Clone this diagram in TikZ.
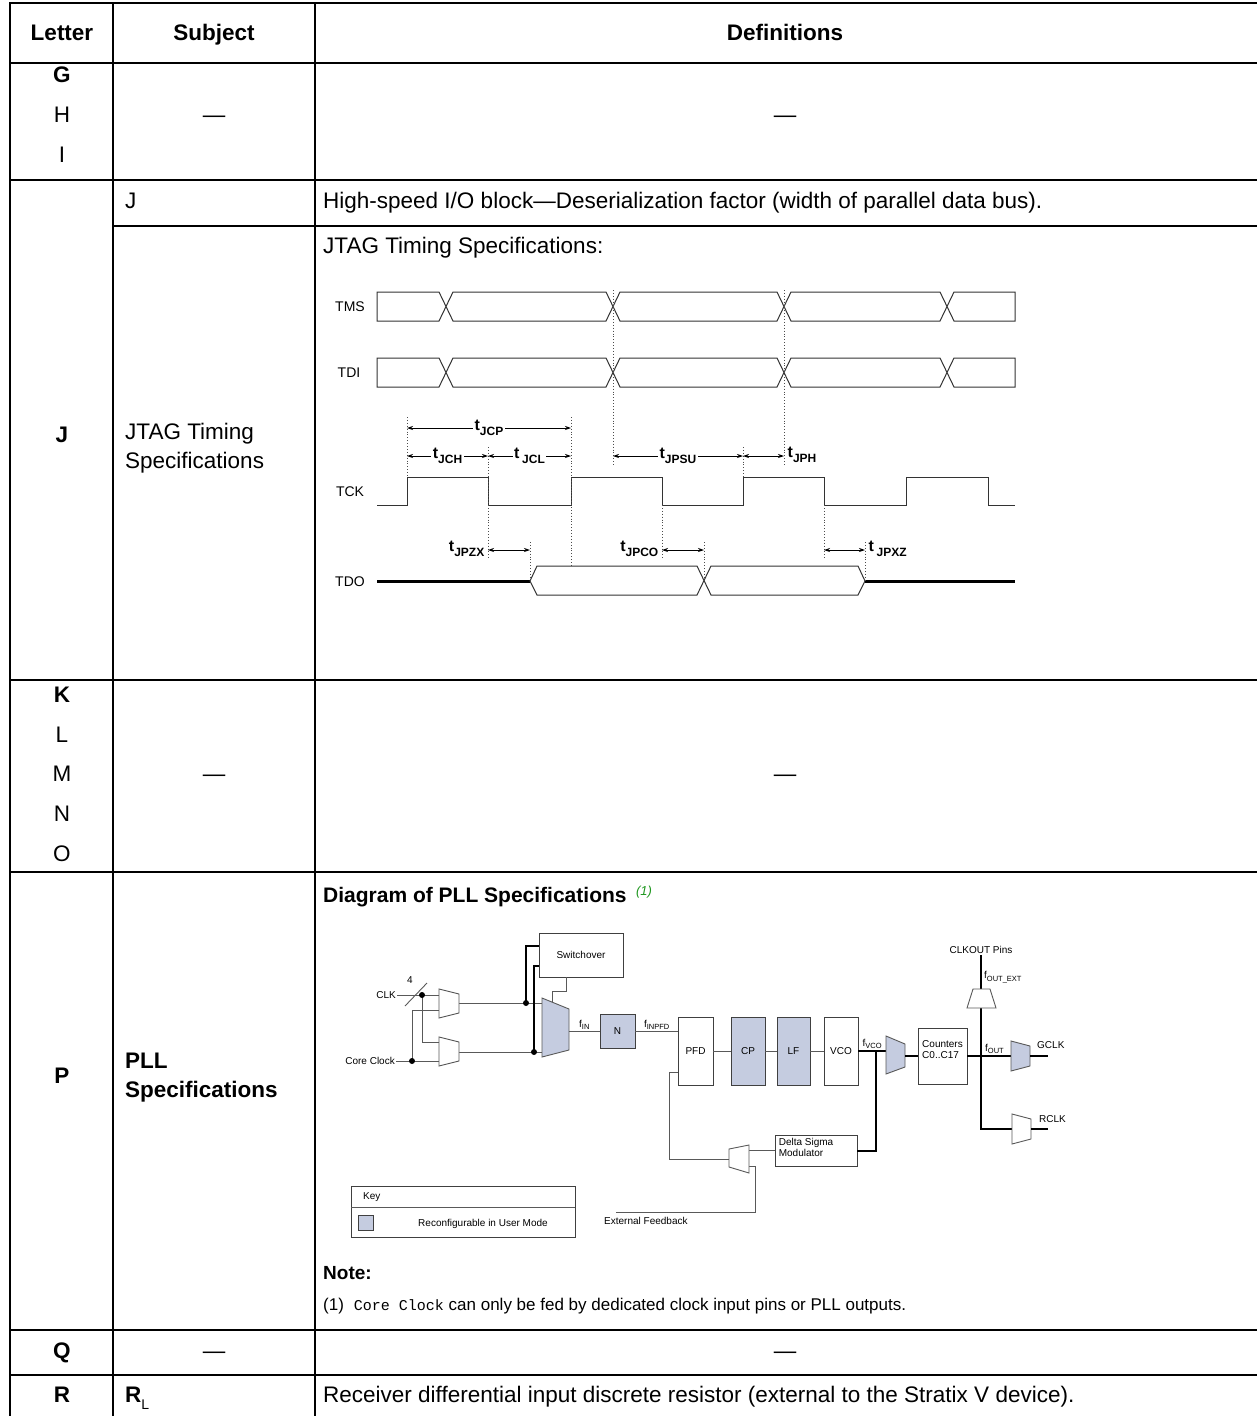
\documentclass[tikz,border=0pt]{standalone}
\usepackage{fontspec}
\setmainfont{Liberation Sans}
\setmonofont{Liberation Mono}
\newfontfamily\dgfont{Liberation Sans}
\usetikzlibrary{arrows.meta}

\definecolor{cfgblue}{RGB}{197,204,224}
\definecolor{notegreen}{RGB}{30,150,30}

\newcommand{\tsb}[1]{\raisebox{-0.3em}{\fontsize{12}{12}\selectfont #1}}
\newcommand{\tj}[1]{t\tsb{#1}}
\newcommand{\fs}[1]{f\raisebox{-0.25em}{\fontsize{7.5}{8}\selectfont #1}}

\tikzset{
  rowline/.style={line width=2.4pt},
  colline/.style={line width=1.6pt},
  cell/.style={inner sep=0pt, text height=16pt, text depth=4.5pt, font=\fontsize{22.5}{28}\selectfont},
  head/.style={cell, font=\fontsize{22.5}{28}\selectfont\bfseries},
  multi/.style={inner sep=0pt, align=left, font=\fontsize{22.5}{29}\selectfont},
  wave/.style={draw=black!80, line width=1pt},
  guide/.style={dotted, line width=0.9pt, black!70},
  dim/.style={<->, >={Stealth[length=6pt,width=4pt]}, line width=0.8pt},
  sig/.style={inner sep=0pt, font=\dgfont\fontsize{14}{16}\selectfont},
  tlab/.style={inner sep=1.5pt, font=\dgfont\bfseries\fontsize{16}{18}\selectfont},
  blk/.style={draw=black!75, line width=0.8pt, fill=white, inner sep=0pt, font=\dgfont\fontsize{10}{11}\selectfont},
  cfg/.style={blk, fill=cfgblue},
  wire/.style={draw=black!65, line width=0.9pt},
  bus/.style={draw=black, line width=2pt},
  plab/.style={inner sep=1pt, font=\dgfont\fontsize{10}{11}\selectfont},
}

\begin{document}
\begin{tikzpicture}[x=1pt,y=-1pt]
\useasboundingbox (0,0) rectangle (1256,1416);

% table rules
\draw[rowline] (10,3)--(1260,3);
\draw[rowline] (10,63)--(1260,63);
\draw[rowline] (10,180)--(1260,180);
\draw[rowline] (113,226)--(1260,226);
\draw[rowline] (10,680)--(1260,680);
\draw[rowline] (10,872)--(1260,872);
\draw[rowline] (10,1330)--(1260,1330);
\draw[rowline] (10,1375)--(1260,1375);
\draw[colline] (10,2)--(10,1420);
\draw[colline] (113,2)--(113,1420);
\draw[colline] (315,2)--(315,1420);

% header
\node[head] (hletter) at (62,35) {Letter};
\node[head] (hsubject) at (214,35) {Subject};
\node[head] (hdef) at (785,35) {Definitions};

% G H I
\node[head] (lg) at (62,77) {G};
\node[cell] (lh) at (62,117) {H};
\node[cell] (li) at (62,157) {I};
\node[cell] (sghi) at (214,117) {---};
\node[cell] (dghi) at (785,117) {---};

% J
\node[head] (lj) at (62,437) {J};
\node[cell, anchor=west] (sj) at (125,203) {J};
\node[cell, anchor=west] (dj) at (323,203) {High-speed I/O block---Deserialization factor (width of parallel data bus).};
\node[multi, anchor=west] (sjtag) at (125,448) {JTAG Timing\\Specifications};
\node[cell, anchor=west] (djtag) at (323,248) {JTAG Timing Specifications:};

% JTAG waveforms
\node[sig] (tms) at (350,307) {TMS};
\node[sig] (tdi) at (349,373) {TDI};
\node[sig] (tck) at (350,492) {TCK};
\node[sig] (tdo) at (350,582) {TDO};

\foreach \yt/\yb in {292/321,358/387}{
  \draw[wave] (377,\yt)--(439,\yt)--(453,\yb)--(606,\yb)--(620,\yt)--(777,\yt)--(791,\yb)--(940,\yb)--(954,\yt)--(1015,\yt)
    --(1015,\yb)--(954,\yb)--(940,\yt)--(791,\yt)--(777,\yb)--(620,\yb)--(606,\yt)--(453,\yt)--(439,\yb)--(377,\yb)--cycle;
}
\draw[wave] (377,505)--(407,505)--(407,477)--(488,477)--(488,505)--(571,505)--(571,477)--(662,477)--(662,505)
  --(743,505)--(743,477)--(824,477)--(824,505)--(906,505)--(906,477)--(988,477)--(988,505)--(1015,505);

\draw[line width=3pt] (377,581)--(530,581);
\draw[wave] (530,581)--(537,566)--(697,566)--(711,595)--(858,595)--(865,581)--(858,566)--(711,566)--(697,595)--(537,595)--cycle;
\draw[line width=3pt] (865,581)--(1015,581);

% guides
\draw[guide] (407,417)--(407,477);
\draw[guide] (488,447)--(488,559);
\draw[guide] (571,417)--(571,566);
\draw[guide] (613,290)--(613,465);
\draw[guide] (743,447)--(743,477);
\draw[guide] (784,290)--(784,465);
\draw[guide] (662,505)--(662,560);
\draw[guide] (824,505)--(824,560);
\draw[guide] (530,542)--(530,581);
\draw[guide] (704,542)--(704,581);
\draw[guide] (865,542)--(865,581);

% timing dimensions
\draw[dim] (407,428)--node[tlab, fill=white]{\tj{JCP}}(571,428);
\draw[dim] (407,456)--node[tlab, fill=white]{\tj{JCH}}(488,456);
\draw[dim] (488,456)--node[tlab, fill=white]{t\,\tsb{JCL}}(571,456);
\draw[dim] (613,456)--node[tlab, fill=white]{\tj{JPSU}}(743,456);
\draw[dim] (743,456)--(784,456);
\node[tlab, anchor=west] (tjph) at (786,455) {\tj{JPH}};
\draw[dim] (488,550)--(530,550);
\node[tlab, anchor=east] (tjpzx) at (486,549) {\tj{JPZX}};
\draw[dim] (662,550)--(704,550);
\node[tlab, anchor=east] (tjpco) at (660,549) {\tj{JPCO}};
\draw[dim] (824,550)--(865,550);
\node[tlab, anchor=west] (tjpxz) at (867,549) {t\,\tsb{JPXZ}};

% K L M N O
\node[head] (lk) at (62,697) {K};
\node[cell] (ll) at (62,737) {L};
\node[cell] (lm) at (62,776) {M};
\node[cell] (ln) at (62,816) {N};
\node[cell] (lo) at (62,856) {O};
\node[cell] (sko) at (214,776) {---};
\node[cell] (dko) at (785,776) {---};

% P
\node[head] (lp) at (62,1078) {P};
\node[multi, anchor=west, font=\fontsize{22.5}{29}\selectfont\bfseries] (spll) at (125,1078) {PLL\\Specifications};
\node[anchor=west, inner sep=0pt, font=\bfseries\fontsize{21}{24}\selectfont] (plltitle) at (323,897) {Diagram of PLL Specifications};
\node[anchor=west, inner sep=0pt, text=notegreen, font=\itshape\fontsize{13}{15}\selectfont] (pllnote) at ([xshift=9pt,yshift=5pt]plltitle.east) {(1)};

% PLL blocks
\node[blk, minimum width=84pt, minimum height=44pt] (swo) at (581,955) {Switchover};
\node[cfg, minimum width=35pt, minimum height=34pt] (ndiv) at (617.5,1031) {N};
\node[blk, minimum width=35pt, minimum height=68pt] (pfd) at (695.5,1051) {PFD};
\node[cfg, minimum width=34pt, minimum height=68pt] (cp) at (748,1051) {CP};
\node[cfg, minimum width=33pt, minimum height=68pt] (lf) at (793.5,1051) {LF};
\node[blk, minimum width=34pt, minimum height=68pt] (vco) at (841,1051) {VCO};
\node[blk, minimum width=49pt, minimum height=56pt] (cnt) at (942.5,1056) {};
\node[plab, align=left] (cnttxt) at ([yshift=6pt]cnt.center) {Counters\\C0..C17};
\node[blk, minimum width=82pt, minimum height=31pt] (dsm) at (816,1150.5) {};
\node[plab, align=left, anchor=north west] (dsmtxt) at ([xshift=3pt,yshift=-2pt]dsm.north west) {Delta Sigma\\Modulator};

% mux ports
\coordinate (muxA-i1) at (439,995);
\coordinate (muxA-i2) at (439,1010);
\coordinate (muxA-o) at (459,1003);
\coordinate (muxB-i1) at (439,1042);
\coordinate (muxB-i2) at (439,1061);
\coordinate (muxB-o) at (459,1052);
\coordinate (muxM-i1) at (542,1003);
\coordinate (muxM-i2) at (542,1052);
\coordinate (muxM-s) at (552,1002);
\coordinate (muxM-o) at (569,1031);
\coordinate (muxV-i) at (886,1051);
\coordinate (muxV-o) at (905,1056);
\coordinate (muxG-i) at (1011,1056);
\coordinate (muxG-o) at (1030,1056);
\coordinate (muxR-i) at (1012,1129);
\coordinate (muxR-o) at (1031,1129);
\coordinate (muxF-o) at (729,1159);
\coordinate (muxF-i1) at (749,1150.5);
\coordinate (muxF-i2) at (749,1166);
\coordinate (dotK) at (422,995);
\coordinate (dotC) at (412,1061);
\coordinate (dotA) at (526,1003);
\coordinate (dotB) at (534,1052);
\coordinate (swo-i1) at (539,946);
\coordinate (swo-i2) at (539,966);
\coordinate (swo-s) at (566,977);
\coordinate (pfd-i) at (678,1031);
\coordinate (pfd-f) at (678,1072);
\coordinate (jv) at (876,1051);
\coordinate (jr) at (981,1129);
\coordinate (gclk-e) at (1048,1056);
\coordinate (rclk-e) at (1048,1129);
\coordinate (fb0) at (616,1212);

% inputs
\node[plab, anchor=east] (clk) at (397,995) {CLK};
\node[plab, anchor=east] (cclk) at (396,1061) {Core Clock};
\draw[wire] (clk.east)--(muxA-i1);
\draw[wire] (cclk.east)--(muxB-i2);
\draw[wire] (405,1006)--(427,983);
\node[plab] (bw) at (410,980) {4};
\draw[wire] (dotC)|-(muxA-i2);
\draw[wire] (dotK)|-(muxB-i1);
\draw[wire] (muxA-o)--(muxM-i1);
\draw[wire] (muxB-o)--(muxM-i2);
\draw[bus] (dotA)|-(swo-i1);
\draw[bus] (dotB)|-(swo-i2);
\draw[wire] (swo-s)--(566,991)-|(muxM-s);
\foreach \d in {dotK,dotC,dotA,dotB} \fill (\d) circle (3pt);

% muxes
\draw[wire, fill=white] (439,989)--(459,994)--(459,1013)--(439,1018)--cycle;
\draw[wire, fill=white] (439,1037)--(459,1042)--(459,1061)--(439,1066)--cycle;
\draw[wire, fill=cfgblue] (542,998)--(569,1009)--(569,1050)--(542,1057)--cycle;

% main chain
\draw[wire] (muxM-o)--node[plab, above]{\fs{IN}}(ndiv.west);
\draw[wire] (ndiv.east)--node[plab, above]{\fs{INPFD}}(pfd-i);
\draw[wire] (pfd)--(cp);
\draw[wire] (cp)--(lf);
\draw[wire] (lf)--(vco);
\draw[bus] (vco.east)--node[plab, above]{\fs{VCO}}(muxV-i);
\draw[bus] (jv)|-(dsm.east);
\draw[wire, fill=cfgblue] (886,1036)--(905,1044)--(905,1067)--(886,1074)--cycle;
\draw[bus] (muxV-o)--(cnt);

% outputs
\node[plab, anchor=south] (pins) at (981,955) {CLKOUT Pins};
\draw[bus] (pins.south)--(jr)--(muxR-i);
\draw[bus] (cnt)--node[plab, above, pos=0.62]{\fs{OUT}}(muxG-i);
\draw[wire, fill=white] (967,1008)--(973,989)--(990,989)--(996,1008)--cycle;
\node[plab, anchor=west] (foutext) at (983,977) {\fs{OUT\_EXT}};
\draw[wire, fill=cfgblue] (1011,1041)--(1030,1046)--(1030,1066)--(1011,1071)--cycle;
\draw[wire, fill=white] (1012,1114)--(1031,1119)--(1031,1139)--(1012,1144)--cycle;
\draw[bus] (muxG-o)--(gclk-e);
\draw[bus] (muxR-o)--(rclk-e);
\node[plab, anchor=south west] (gclk) at (1036,1050) {GCLK};
\node[plab, anchor=south west] (rclk) at (1038,1124) {RCLK};

% feedback
\draw[wire] (muxF-o)-|(669,1072)--(pfd-f);
\draw[wire] (dsm.west)--(muxF-i1);
\draw[wire] (fb0)-|(755,1166)--(muxF-i2);
\draw[wire, fill=white] (729,1149)--(749,1145)--(749,1173)--(729,1167)--cycle;
\node[plab, anchor=north west] (extfb) at (603,1216) {External Feedback};

% key
\node[blk, minimum width=224pt, minimum height=51pt] (key) at (463,1211.5) {};
\draw[wire] (351,1207)--(575,1207);
\node[plab, anchor=west] (keyt) at (362,1197) {Key};
\node[cfg, minimum width=15pt, minimum height=15pt] (swatch) at (365.5,1222.5) {};
\node[plab] (keytxt) at (483,1224) {Reconfigurable in User Mode};

% note
\node[anchor=west, inner sep=0pt, font=\bfseries\fontsize{19}{22}\selectfont] (note) at (323,1273) {Note:};
\node[anchor=west, inner sep=0pt, font=\fontsize{17}{20}\selectfont] (fn) at (323,1306) {(1)\hspace{10pt}{\ttfamily\fontsize{15}{18}\selectfont Core Clock} can only be fed by dedicated clock input pins or PLL outputs.};

% Q R
\node[head] (lq) at (62,1353) {Q};
\node[cell] (sq) at (214,1353) {---};
\node[cell] (dq) at (785,1353) {---};
\node[head] (lr) at (62,1397) {R};
\node[cell, anchor=west] (sr) at (125,1397) {\textbf{R}\raisebox{-0.3em}{\fontsize{14}{14}\selectfont L}};
\node[cell, anchor=west] (dr) at (323,1397) {Receiver differential input discrete resistor (external to the Stratix V device).};

\end{tikzpicture}
\end{document}
